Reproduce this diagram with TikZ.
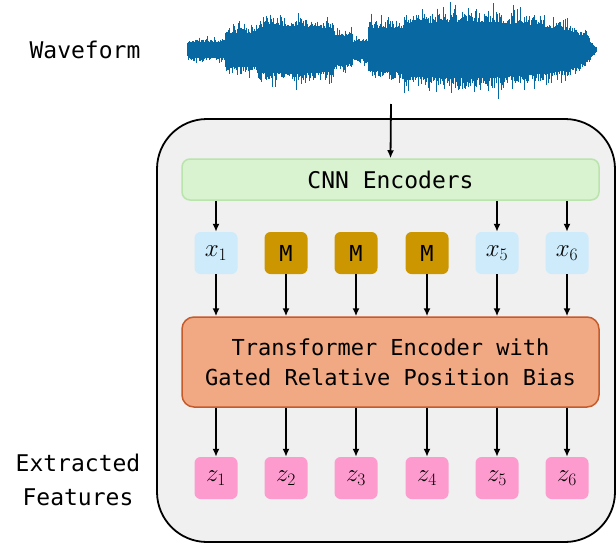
\documentclass[tikz,border=0pt]{standalone}
\usepackage{fix-cm}
\usepackage{fontspec}
\setmonofont{DejaVu Sans Mono}
\usetikzlibrary{arrows.meta,calc,positioning}

\definecolor{wave}{HTML}{0868A1}
\definecolor{boxgray}{HTML}{F0F0F0}
\definecolor{cnnfill}{HTML}{D9F2D0}
\definecolor{cnnline}{HTML}{B9E4AC}
\definecolor{tokblue}{HTML}{CDEBFB}
\definecolor{maskgold}{HTML}{CC9600}
\definecolor{trffill}{HTML}{F1A983}
\definecolor{trfline}{HTML}{C55A2A}
\definecolor{featpink}{HTML}{FD9BCF}

\begin{document}
\begin{tikzpicture}[x=1pt,y=-1pt,
    every node/.style={font=\ttfamily\fontsize{23}{28}\selectfont},
    token/.style={minimum width=43pt,minimum height=42pt,rounded corners=6pt,inner sep=0pt,
                  font=\ttfamily\fontsize{25}{28}\selectfont},
    feat/.style={token,fill=featpink},
    flow/.style={line width=1.8pt,-{Latex[length=8pt,width=7pt]}},
    wave line/.style={wave,line width=0.9pt}
   ]
  \useasboundingbox (0,0) rectangle (616,544);

  % waveform
  \pgfmathsetseed{7}
  \foreach \xa/\aa/\xb/\ab in {187/8/190/11,190/11/224/12,225/24/258/25,259/33/300/34,
      300/34/333/31,334/21/352/20,353/12/367/13,368/30/403/32,404/38/470/41,
      470/41/500/39,500/39/540/34,540/34/570/28,570/28/585/18,585/18/596/3}{
    \foreach \x in {\xa,...,\xb}{
      \pgfmathsetmacro\amp{\aa+(\ab-\aa)*(\x-\xa)/(\xb-\xa)}
      \pgfmathsetmacro\up{\amp*(0.62+0.3*rnd+0.35*rnd^5)}
      \pgfmathsetmacro\dn{\amp*(0.62+0.3*rnd+0.35*rnd^5)}
      \draw[wave line] (\x,50-\up) -- (\x,50+\dn);
      \draw[wave line] (\x+0.5,50-0.7*\amp) -- (\x+0.5,50+0.7*\amp);
    }
  }
  \node (wavelabel) at (85,50) {Waveform};
  \coordinate (wavebot) at (391,104);

  % model box
  \draw[line width=1.8pt,fill=boxgray,rounded corners=50pt] (157,119) rectangle (615,542);

  \node[draw=cnnline,line width=1.5pt,fill=cnnfill,rounded corners=8pt,
        minimum width=417pt,minimum height=41pt] (cnn) at (390.5,179.5) {CNN Encoders};

  \node[token,fill=tokblue] (x1) at (216,253) {$x_1$};
  \node[token,fill=maskgold] (m2) at (286,253) {\fontsize{22}{26}\selectfont M};
  \node[token,fill=maskgold] (m3) at (356,253) {\fontsize{22}{26}\selectfont M};
  \node[token,fill=maskgold] (m4) at (427,253) {\fontsize{22}{26}\selectfont M};
  \node[token,fill=tokblue] (x5) at (497,253) {$x_5$};
  \node[token,fill=tokblue] (x6) at (567,253) {$x_6$};

  \node[draw=trfline,line width=1.5pt,fill=trffill,rounded corners=12pt,
        minimum width=417pt,minimum height=90pt,align=center,
        font=\ttfamily\fontsize{22}{30}\selectfont] (trf) at (390.5,362)
        {Transformer Encoder with\\Gated Relative Position Bias};

  \foreach \i/\x in {1/216,2/286,3/356,4/427,5/497,6/567}
    \node[feat] (z\i) at (\x,478) {$z_{\i}$};

  \node[align=center,font=\ttfamily\fontsize{23}{34}\selectfont] (extlabel) at (78,480)
        {Extracted\\Features};

  % connectors
  \draw[flow] (wavebot) -- (cnn.north);
  \foreach \t in {x1,x5,x6}
    \draw[flow] (\t |- cnn.south) -- (\t.north);
  \foreach \t in {x1,m2,m3,m4,x5,x6}
    \draw[flow] (\t.south) -- (\t |- trf.north);
  \foreach \i in {1,...,6}
    \draw[flow] (z\i |- trf.south) -- (z\i.north);
\end{tikzpicture}
\end{document}
